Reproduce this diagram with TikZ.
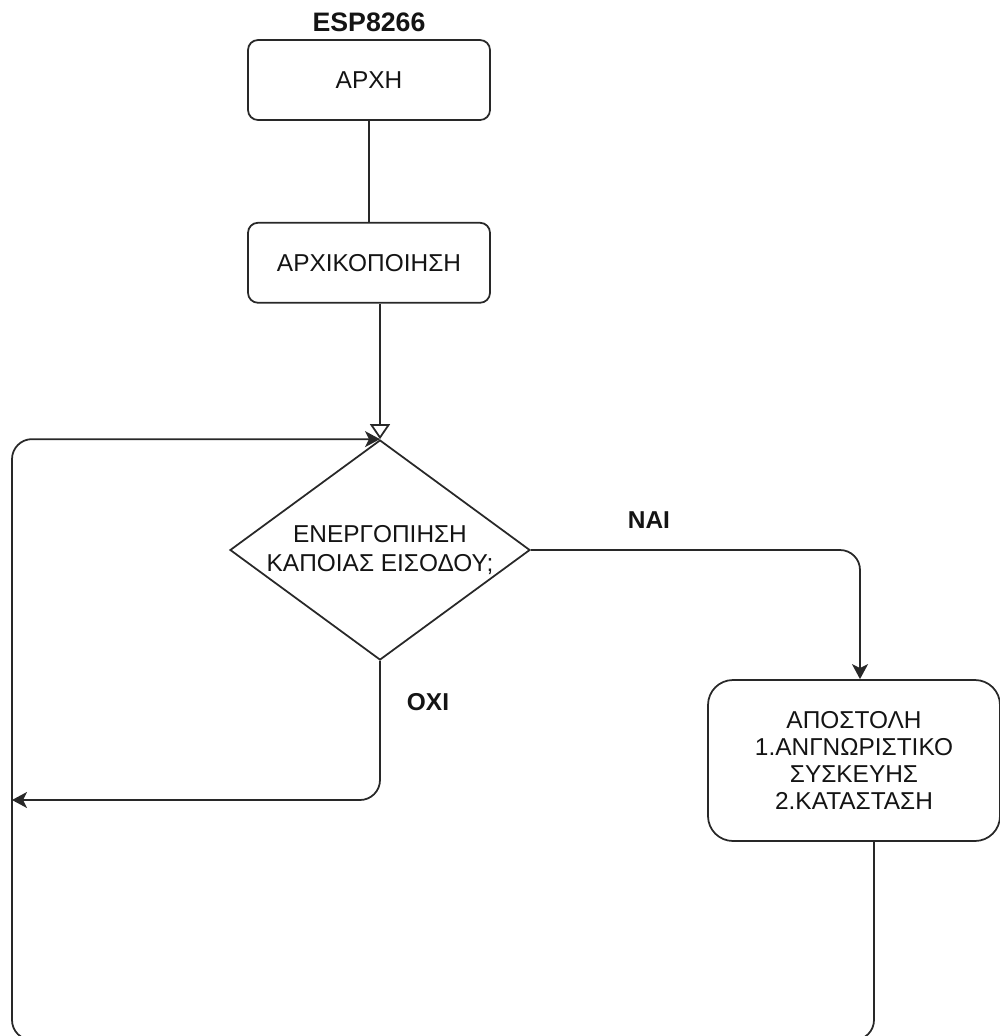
\documentclass[tikz,border=0pt]{standalone}
\usepackage{fontspec}
\setmainfont{Liberation Sans}
\usepackage{tikz}
\usetikzlibrary{shapes.geometric,arrows.meta,positioning,calc}
\definecolor{lineclr}{RGB}{40,40,40}
\definecolor{textclr}{RGB}{20,20,20}

\begin{document}
\begin{tikzpicture}[
    font=\fontsize{13.9pt}{15.4pt}\selectfont, text=textclr,
    block/.style={rectangle, draw=lineclr, line width=1pt, minimum width=4.84cm, minimum height=1.6cm, text centered, rounded corners=0.2cm},
    bigblock/.style={rectangle, draw=lineclr, line width=1pt, minimum width=5.84cm, minimum height=3.22cm, align=center, rounded corners=0.5cm},
    decision/.style={diamond, draw=lineclr, line width=1pt, minimum width=6cm, minimum height=4.4cm, shape aspect=1.36, inner sep=0pt, align=center, font=\fontsize{13.9pt}{16.6pt}\selectfont},
    arrow/.style={-{Stealth[length=0.3cm, width=0.32cm, inset=0.08cm]}, line width=1pt, draw=lineclr, rounded corners=0.4cm},
    openarrow/.style={-{Triangle[open, length=0.3cm, width=0.4cm]}, line width=1pt, draw=lineclr},
    line/.style={line width=1pt, draw=lineclr},
    tag/.style={font=\fontsize{13.9pt}{15.4pt}\selectfont\bfseries}]
  \useasboundingbox (0,0) rectangle (20,-20.72);
  \clip (0,0) rectangle (20,-20.72);
  % boxes
  \node[tag, font=\fontsize{15.2pt}{16pt}\selectfont\bfseries] (title) at (7.38,-0.44) {ESP8266};
  \node[block] (start) at (7.38,-1.6) {ΑΡΧΗ};
  \node[block, below=2.02cm of start] (init) {ΑΡΧΙΚΟΠΟΙΗΣΗ};
  \node[decision] (check) at (7.6,-11.0) {ΕΝΕΡΓΟΠΙΗΣΗ\\ΚΑΠΟΙΑΣ ΕΙΣΟΔΟΥ;};
  \node[bigblock] (send) at (17.08,-15.21) {ΑΠΟΣΤΟΛΗ\\1.ΑΝΓΝΩΡΙΣΤΙΚΟ\\ΣΥΣΚΕΥΗΣ\\2.ΚΑΤΑΣΤΑΣΗ};
  \node[tag] (yes) at (12.98,-10.4) {ΝΑΙ};
  \node[tag] (no) at (8.56,-14.04) {ΟΧΙ};
  \coordinate (left) at (0.24,-16.0);
  \coordinate (bottom) at (0.24,-20.8);
  % connectors
  \draw[line] (start) -- (init);
  \draw[openarrow] (init.south -| check.north) -- (check.north);
  \draw[arrow] (check.east) -| ($(send.north)+(0.12,0)$);
  \draw[arrow] (check.south) |- (left);
  \draw[arrow] ($(send.south)+(0.4,0)$) |- (bottom) |- (check.north);
\end{tikzpicture}
\end{document}
